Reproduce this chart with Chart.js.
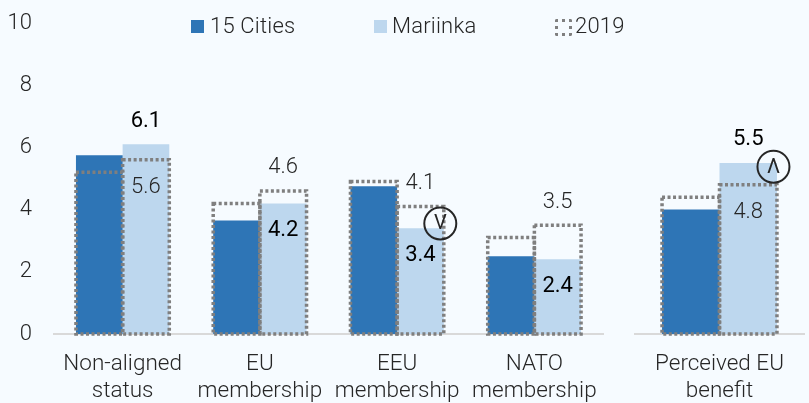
<!DOCTYPE html>
<html><head><meta charset="utf-8">
<script src="https://cdn.jsdelivr.net/npm/chart.js@4"></script>
<style>
html,body{margin:0;padding:0;background:#f6fbff;overflow:hidden}
#wrap{position:relative;width:809px;height:403px;font-family:Roboto,sans-serif;font-weight:300;color:#262626}
canvas{position:absolute;top:0}
#c1{left:0}#c2{left:620px}
.lg{position:absolute;top:12px;font-size:22px;line-height:28px;white-space:nowrap;letter-spacing:.2px}
.sw{position:absolute;top:20px;width:13px;height:13px}
#sw3{left:555px;top:19px;width:11px;height:11px;border:3px dotted #7f7f7f;background:transparent;border-radius:2px}
</style></head><body>
<div id="wrap">
<canvas id="c1" width="615" height="403" style="width:615px;height:403px"></canvas>
<canvas id="c2" width="189" height="403" style="width:189px;height:403px"></canvas>
<div class="sw" style="left:191px;background:#2e75b6"></div><div class="lg" style="left:210px" id="l1"></div>
<div class="sw" style="left:374px;background:#bdd7ee"></div><div class="lg" style="left:392px" id="l2"></div>
<div class="sw" id="sw3"></div><div class="lg" style="left:575px" id="l3"></div>
</div>
<script>
const categories = [["Non-aligned","status"],["EU","membership"],["EEU","membership"],["NATO","membership"],["Perceived EU","benefit"]];
const cities15 = [5.75,3.65,4.75,2.5,4.0];
const mariinka = [6.1,4.2,3.4,2.4,5.5];
const cities2019 = [5.2,4.2,4.9,3.1,4.4];
const mariinka2019 = [5.6,4.6,4.1,3.5,4.8];
const changeMarks = ["","","V","","Λ"];
const seriesNames = ["15 Cities","Mariinka","2019"];
const yTicks = [0,2,4,6,8,10];

document.getElementById('l1').textContent = seriesNames[0];
document.getElementById('l2').textContent = seriesNames[1];
document.getElementById('l3').textContent = seriesNames[2];

const FONT = 22, TXT = '#262626';

function overlay(start){
  return {
    id:'overlay',
    afterDatasetsDraw(chart){
      const c = chart.ctx;
      const m2 = chart.getDatasetMeta(1), p1 = chart.getDatasetMeta(2), p2 = chart.getDatasetMeta(3);
      c.save();
      c.strokeStyle = '#7f7f7f'; c.lineWidth = 3.5; c.setLineDash([3,2.5]);
      [p1,p2].forEach(meta => meta.data.forEach(el => {
        const x = el.x - el.width/2;
        c.strokeRect(x, el.y, el.width, el.base - el.y);
      }));
      c.setLineDash([]);
      c.textAlign = 'center'; c.textBaseline = 'middle';
      m2.data.forEach((el,i) => {
        const now = mariinka[start+i], old = mariinka2019[start+i];
        const oldEl = p2.data[i];
        const top = Math.min(el.y, oldEl.y), low = Math.max(el.y, oldEl.y);
        const nowY = now >= old ? top - 23 : low + 27.5;
        const oldY = now >= old ? low + 27.5 : top - 23;
        c.fillStyle = '#000'; c.font = '400 '+FONT+'px Roboto';
        c.fillText(String(now), el.x, nowY);
        c.fillStyle = TXT; c.font = '300 '+FONT+'px Roboto';
        c.fillText(String(old), el.x, oldY);
        const mark = changeMarks[start+i];
        if (mark){
          const cx = el.x + el.width/2 - 3.5;
          const cy = oldEl.y + (now < old ? 17 : -18);
          c.beginPath(); c.arc(cx, cy, 16, 0, Math.PI*2);
          c.strokeStyle = '#262626'; c.lineWidth = 2; c.stroke();
          c.fillStyle = '#262626'; c.font = '400 20px Roboto';
          c.fillText(mark, cx, cy+1);
        }
      });
      c.restore();
    }
  };
}

function makeChart(id, from, to, yVisible, pad){
  const common = {barPercentage:1,categoryPercentage:.68,borderWidth:0};
  const ghost = {...common,backgroundColor:'rgba(0,0,0,0)'};
  return new Chart(document.getElementById(id),{
    type:'bar',
    data:{labels:categories.slice(from,to),datasets:[
      {...common,stack:'a',label:seriesNames[0],data:cities15.slice(from,to),backgroundColor:'#2e75b6'},
      {...common,stack:'b',label:seriesNames[1],data:mariinka.slice(from,to),backgroundColor:'#bdd7ee'},
      {...ghost,stack:'a',label:seriesNames[2]+' 15 Cities',data:cities2019.slice(from,to)},
      {...ghost,stack:'b',label:seriesNames[2]+' Mariinka',data:mariinka2019.slice(from,to)}
    ]},
    options:{
      responsive:false,animation:false,
      layout:{padding:pad},
      plugins:{legend:{display:false},tooltip:{enabled:false}},
      scales:{
        x:{grid:{display:false,drawTicks:false},border:{color:'#d9d9d9',width:2},
           afterFit(s){s.height=69;s.paddingLeft=0;s.paddingRight=0;},
           ticks:{padding:16,maxRotation:0,autoSkip:false,color:TXT,font:{family:'Roboto',weight:'300',size:22.5,lineHeight:1.24}}},
        y:{display:yVisible,stacked:false,min:0,max:10,afterFit(s){s.width=yVisible?54:0;s.paddingTop=0;s.paddingBottom=0;},
           afterBuildTicks(s){s.ticks=yTicks.map(v=>({value:v}));},
           grid:{display:false,drawTicks:false},border:{display:false},
           ticks:{padding:22,color:TXT,font:{family:'Roboto',weight:'300',size:FONT}}}
      }
    },
    plugins:[overlay(from)]
  });
}
document.fonts.load('300 22px Roboto').finally(()=>document.fonts.load('400 22px Roboto')).finally(()=>{
  makeChart('c1',0,4,true,{top:23,left:0,right:12,bottom:0});
  makeChart('c2',4,5,false,{top:23,left:15,right:5,bottom:0});
});
</script>
</body></html>
